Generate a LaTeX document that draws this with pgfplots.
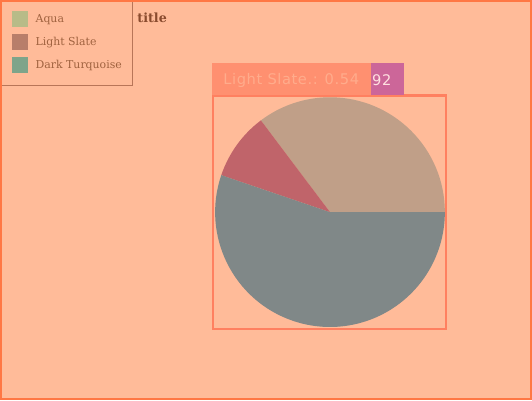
\documentclass[border=0pt]{standalone}
\usepackage{pgfplots}
\usepackage{pgfplotstable}
\pgfplotsset{compat=1.18}
\usepackage{fontspec}
\setmainfont{DejaVu Serif}
\newfontfamily\dvsans[LetterSpace=4]{DejaVu Sans}
\definecolor{bg}{HTML}{FFBB99}
\definecolor{outer}{HTML}{FF7744}
\definecolor{legborder}{HTML}{B87558}
\definecolor{legtext}{HTML}{A0623F}
\definecolor{titlecol}{HTML}{8A4B2E}
\definecolor{boxborder}{HTML}{FF8060}
\definecolor{tipfill}{HTML}{FF9070}
\definecolor{tiptext}{HTML}{FFAC8C}
\definecolor{pinkfill}{HTML}{CC6699}
\definecolor{pinktext}{HTML}{FFE0E0}
\definecolor{legA}{HTML}{B8BB88}
\definecolor{legB}{HTML}{B87E6A}
\definecolor{legC}{HTML}{7EA48A}
\definecolor{pieA}{HTML}{C09F88}
\definecolor{pieB}{HTML}{C0646A}
\definecolor{pieC}{HTML}{808888}
\pgfplotstableread{
label value
Aqua 0.345
DarkTurquoise 0.093
LightSlate 0.54
}\piedata
\begin{document}
\pgfplotstablegetelem{0}{value}\of\piedata\pgfmathsetmacro\va{\pgfplotsretval}%
\pgfplotstablegetelem{1}{value}\of\piedata\pgfmathsetmacro\vb{\pgfplotsretval}%
\pgfplotstablegetelem{2}{value}\of\piedata\pgfmathsetmacro\vc{\pgfplotsretval}%
\pgfmathsetmacro\tot{\va+\vb+\vc}%
\pgfmathsetmacro\aA{360*\va/\tot}%
\pgfmathsetmacro\aB{360*(\va+\vb)/\tot}%
\begin{tikzpicture}[x=0.75pt,y=0.75pt]
% background and outer border
\fill[bg] (0,0) rectangle (532,400);
% pie axis
\begin{axis}[
  at={(161.25pt,54.75pt)}, anchor=south west,
  width=172.5pt, height=172.5pt, scale only axis,
  xmin=-1, xmax=1, ymin=-1, ymax=1,
  hide axis, clip=false]
\fill[pieA] (axis cs:0,0) -- (axis cs:1,0) arc[start angle=0, end angle=\aA, radius=86.25pt] -- cycle;
\fill[pieB] (axis cs:0,0) -- (axis cs:{cos(\aA)},{sin(\aA)}) arc[start angle=\aA, end angle=\aB, radius=86.25pt] -- cycle;
\fill[pieC] (axis cs:0,0) -- (axis cs:{cos(\aB)},{sin(\aB)}) arc[start angle=\aB, end angle=360, radius=86.25pt] -- cycle;
\end{axis}
% pie box
\draw[boxborder,line width=2pt] (213,71) rectangle (446,305);
% tooltip
\fill[tipfill] (212,305) rectangle (371,337);
\fill[pinkfill] (371,305) rectangle (404,337);
\node[anchor=west,inner sep=0pt,text=tiptext,font=\dvsans\fontsize{11pt}{13pt}\selectfont] at (223,320) {Light Slate.: 0.54};
\node[anchor=west,inner sep=0pt,text=pinktext,font=\dvsans\fontsize{11pt}{13pt}\selectfont] at (372,320) {92};
% legend
\draw[legborder,line width=0.6pt] (0,400) -- (0,315) -- (132,315) -- (132,400);
\fill[legA] (12,389) rectangle (28,373);
\fill[legB] (12,366) rectangle (28,350);
\fill[legC] (12,343) rectangle (28,327);
\node[anchor=west,inner sep=0pt,text=legtext,font=\fontsize{8.2pt}{10pt}\selectfont] at (35,381) {Aqua};
\node[anchor=west,inner sep=0pt,text=legtext,font=\fontsize{8.2pt}{10pt}\selectfont] at (35,358) {Light Slate};
\node[anchor=west,inner sep=0pt,text=legtext,font=\fontsize{8.2pt}{10pt}\selectfont] at (35,335) {Dark Turquoise};
% title
\node[anchor=west,inner sep=0pt,text=titlecol,font=\bfseries\fontsize{9.5pt}{11pt}\selectfont] at (137,383) {title};
\draw[outer,line width=1.5pt] (0.75,0.75) rectangle (531.25,399.25);
\end{tikzpicture}
\end{document}
